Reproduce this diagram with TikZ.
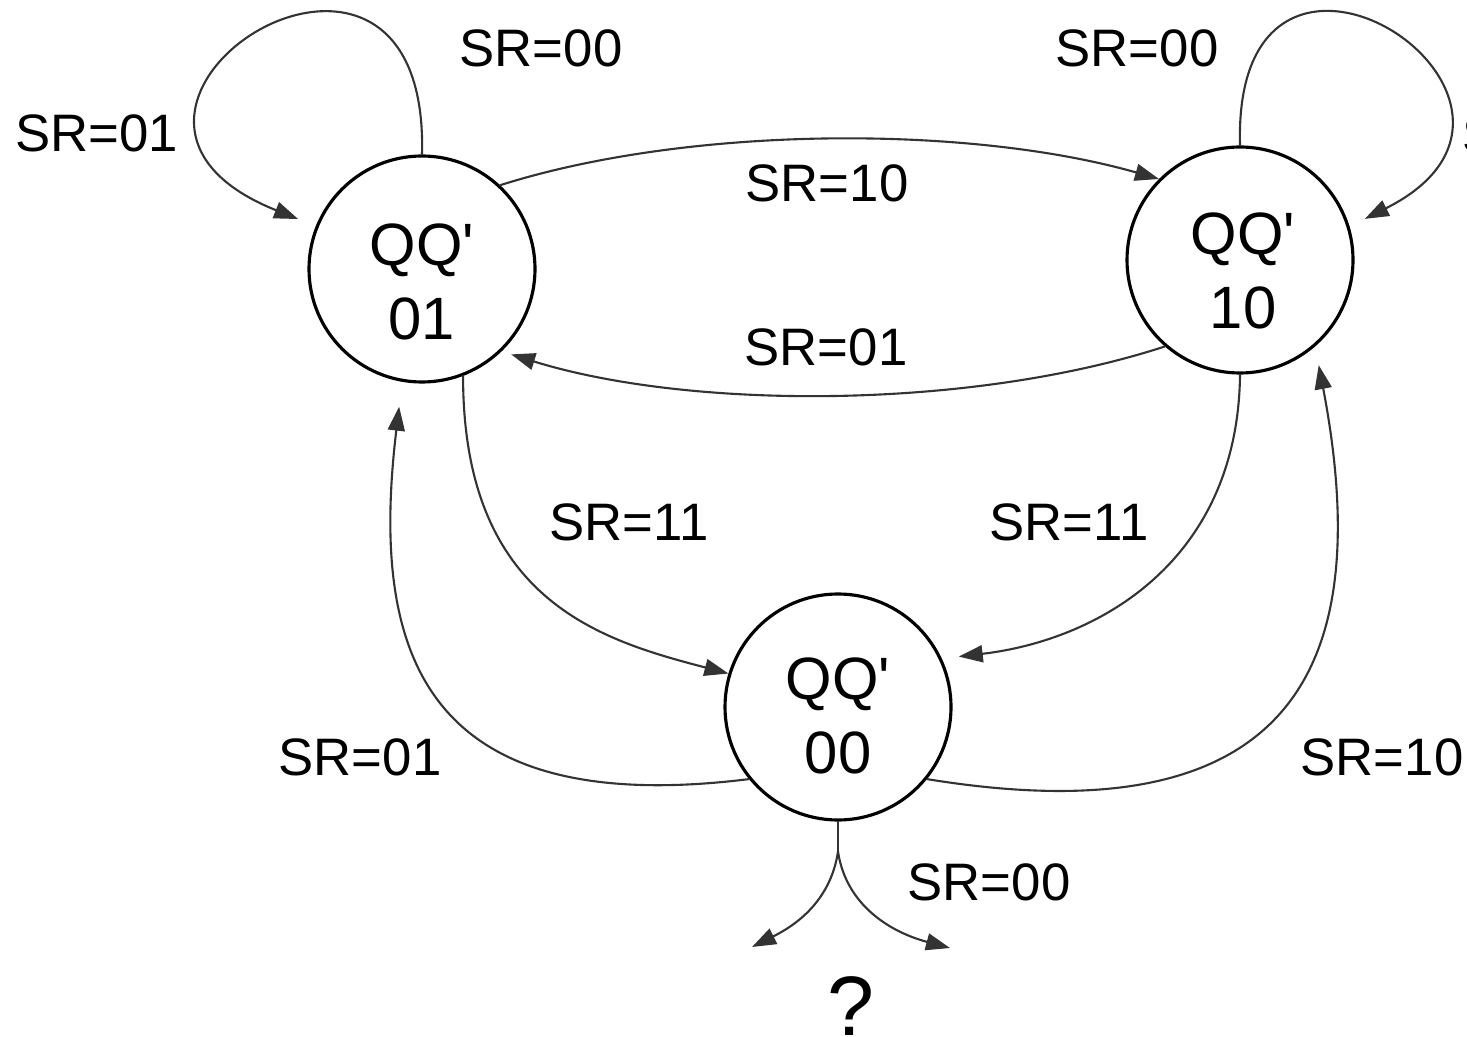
\documentclass[tikz,border=0pt]{standalone}
\usepackage{fontspec}
\setmainfont{Liberation Sans}
\usetikzlibrary{arrows.meta}

\begin{document}
\begin{tikzpicture}[
  x=1cm,
  y=1cm,
  font=\fontsize{15}{18}\selectfont,
  line cap=round,
  line join=round,
  state circle/.style={draw=black,circle,line width=0.9pt,
    minimum size=2.26cm,inner sep=0pt},
  state text/.style={font=\fontsize{17}{21}\selectfont,align=center,
    inner sep=0pt},
  cond/.style={inner sep=0pt},
  trans arrow/.style={
    draw=black!80,
    line width=0.6pt,
    -{Triangle[length=2.4mm,width=1.7mm]}
  }
]
  \path[use as bounding box] (0,0) rectangle (14.67,10.36);
  \clip (0,0) rectangle (14.67,10.36);

  % the three states, text set a little below the centre
  \node[state circle] (s01) at (4.22,7.67) {};
  \node[state circle] (s10) at (12.40,7.76) {};
  \node[state circle] (s00) at (8.38,3.29) {};
  \node[state text] (t01) at (4.22,7.54) {QQ\textquotesingle\\01};
  \node[state text] (t10) at (12.43,7.65) {QQ\textquotesingle\\10};
  \node[state text] (t00) at (8.38,3.20) {QQ\textquotesingle\\00};

  % self loops
  \draw[trans arrow,shorten >=1.9mm]
    (s01.north) .. controls (4.30,11.86) and (0.25,9.26) .. (s01.158);
  \draw[trans arrow,shorten >=1.7mm]
    (s10.north) .. controls (12.32,11.76) and (16.00,9.35) .. (s10.17);

  % between 01 and 10
  \draw[trans arrow]
    (s01.47) .. controls (6.90,9.11) and (9.70,9.11) .. (s10.135);
  \draw[trans arrow,shorten >=1mm]
    (s10.229) .. controls (9.70,6.26) and (6.90,6.26) .. (s01.314);

  % into 00
  \draw[trans arrow]
    (s01.291) .. controls (4.63,4.36) and (6.00,3.96) .. (s00.163);
  \draw[trans arrow,shorten >=1.7mm]
    (s10.south) .. controls (12.38,4.76) and (11.00,3.96) .. (s00.25);

  % out of 00
  \draw[trans arrow,shorten >=2.5mm]
    (s00.219) .. controls (4.20,2.16) and (3.70,3.86) .. (s01.260);
  \draw[trans arrow,shorten >=1.9mm]
    (s00.321) .. controls (13.00,1.96) and (13.75,3.76) .. (s10.311);

  % the undefined case
  \coordinate (fork) at ([yshift=-3mm]s00.south);
  \coordinate (qL) at (7.52,0.89);
  \coordinate (qR) at (9.50,0.88);
  \draw[draw=black!80,line width=0.6pt] (s00.south) -- (fork);
  \draw[trans arrow] (fork) .. controls (8.30,1.31) and (7.90,1.08) .. (qL);
  \draw[trans arrow] (fork) .. controls (8.46,1.31) and (8.90,1.04) .. (qR);

  % conditions
  \node[cond] (c1) at (0.97,9.03) {SR=01};
  \node[cond] (c2) at (5.41,9.88) {SR=00};
  \node[cond] (c3) at (11.37,9.88) {SR=00};
  \node[cond,anchor=west] (c4) at (14.62,9.01) {SR=10};
  \node[cond] (c5) at (8.27,8.53) {SR=10};
  \node[cond] (c6) at (8.26,6.89) {SR=01};
  \node[cond] (c7) at (6.29,5.14) {SR=11};
  \node[cond] (c8) at (10.69,5.14) {SR=11};
  \node[cond] (c9) at (3.60,2.79) {SR=01};
  \node[cond] (c10) at (13.82,2.79) {SR=10};
  \node[cond] (c11) at (9.89,1.54) {SR=00};
  \node[cond,font=\fontsize{24}{28}\selectfont] (qmark) at (8.51,0.30) {?};
\end{tikzpicture}
\end{document}
